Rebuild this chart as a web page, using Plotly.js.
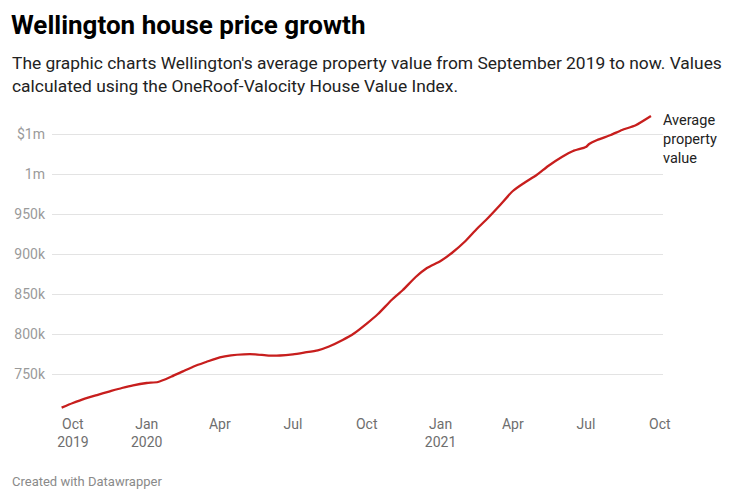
<!DOCTYPE html>
<html>
<head>
<meta charset="utf-8">
<script src="https://cdn.plot.ly/plotly-3.0.1.min.js"></script>
<style>
  html, body { margin: 0; padding: 0; background: #fff; }
  #chart { width: 740px; height: 501px; }
</style>
</head>
<body>
<div id="chart"></div>
<script>
const dates = [
  '2019-09-17','2019-10-01','2019-10-15','2019-11-01','2019-11-15','2019-12-01','2019-12-15',
  '2020-01-01','2020-01-15','2020-02-01','2020-02-15','2020-03-01','2020-03-15',
  '2020-04-01','2020-04-15','2020-05-01','2020-05-15','2020-06-01','2020-06-15',
  '2020-07-01','2020-07-15','2020-08-01','2020-08-15','2020-09-01','2020-09-15',
  '2020-10-01','2020-10-15','2020-11-01','2020-11-15','2020-12-01','2020-12-15',
  '2021-01-01','2021-01-15','2021-02-01','2021-02-15','2021-03-01','2021-03-15',
  '2021-04-01','2021-04-15','2021-05-01','2021-05-15','2021-06-01','2021-06-15',
  '2021-07-01','2021-07-05','2021-07-15','2021-08-01','2021-08-15','2021-09-01','2021-09-20'
];
const values = [
  707900, 713750, 719000, 724000, 728000, 732500, 735900,
  738750, 740000, 746900, 753250, 760000, 765000,
  770900, 773400, 774600, 774600, 773000, 773100,
  774600, 776750, 779600, 784400, 792500, 800600,
  813000, 825000, 842500, 855000, 871250, 882500,
  891250, 901250, 916250, 931250, 945000, 960000,
  978750, 988750, 999000, 1010000, 1021250, 1028750,
  1033750, 1037500, 1042500, 1048750, 1055000, 1061000, 1072500
];
const seriesName = 'Average<br>property<br>value';
const xTickVals = ['2019-10-01','2020-01-01','2020-04-01','2020-07-01','2020-10-01','2021-01-01','2021-04-01','2021-07-01','2021-10-01'];
const xTickText = ['Oct<br>2019','Jan<br>2020','Apr','Jul','Oct','Jan<br>2021','Apr','Jul','Oct'];
const yTickVals = [750000, 800000, 850000, 900000, 950000, 1000000, 1050000];
const yTickText = ['750k','800k','850k','900k','950k','1m','$1m'];

const trace = {
  x: dates, y: values, type: 'scatter', mode: 'lines',
  line: { color: '#c71e1d', width: 2.3, shape: 'spline', smoothing: 0.6 },
  hoverinfo: 'skip'
};

const layout = {
  width: 740, height: 501,
  margin: { l: 52, r: 77, t: 114, b: 87 },
  paper_bgcolor: '#fff', plot_bgcolor: '#fff',
  font: { family: 'Roboto, "Noto Sans", sans-serif', color: '#333' },
  showlegend: false,
  title: {
    text: '<b>Wellington house price growth</b>',
    font: { family: 'Roboto, sans-serif', size: 26, color: '#000' },
    x: 11 / 740, xanchor: 'left', xref: 'container',
    y: 1 - 25 / 501, yanchor: 'middle', yref: 'container'
  },
  xaxis: {
    type: 'date',
    range: ['2019-09-05', '2021-10-05'],
    tickmode: 'array', tickvals: xTickVals, ticktext: xTickText,
    showgrid: false, zeroline: false, showline: false,
    ticks: '', tickfont: { size: 14, color: '#6e6e6e' }
  },
  yaxis: {
    range: [700000, 1075000],
    tickmode: 'array', tickvals: yTickVals, ticktext: yTickText,
    showgrid: true, gridcolor: '#e3e3e3', gridwidth: 1,
    zeroline: false, showline: false, ticks: '',
    tickfont: { size: 14, color: '#9a9a9a' }, ticklabelstandoff: 6
  },
  annotations: [
    {
      text: "The graphic charts Wellington's average property value from September 2019 to now. Values<br>calculated using the OneRoof-Valocity House Value Index.",
      xref: 'paper', yref: 'paper', x: (12 - 52) / 611, y: (414 - 51) / 300, xshift: -2,
      xanchor: 'left', yanchor: 'top', align: 'left', showarrow: false,
      font: { size: 17.4, color: '#222' }
    },
    {
      text: 'Created with Datawrapper',
      xref: 'paper', yref: 'paper', x: (12 - 52) / 611, y: (414 - 481) / 300, xshift: -2,
      xanchor: 'left', yanchor: 'middle', align: 'left', showarrow: false,
      font: { size: 13, color: '#8a8a8a' }
    },
    {
      text: seriesName,
      xref: 'paper', yref: 'paper', x: 1, y: (414 - 110) / 300, xshift: -2,
      xanchor: 'left', yanchor: 'top', align: 'left', showarrow: false,
      font: { size: 14.5, color: '#222' }
    }
  ]
};

Plotly.newPlot('chart', [trace], layout, { staticPlot: true, displayModeBar: false });
</script>
</body>
</html>
